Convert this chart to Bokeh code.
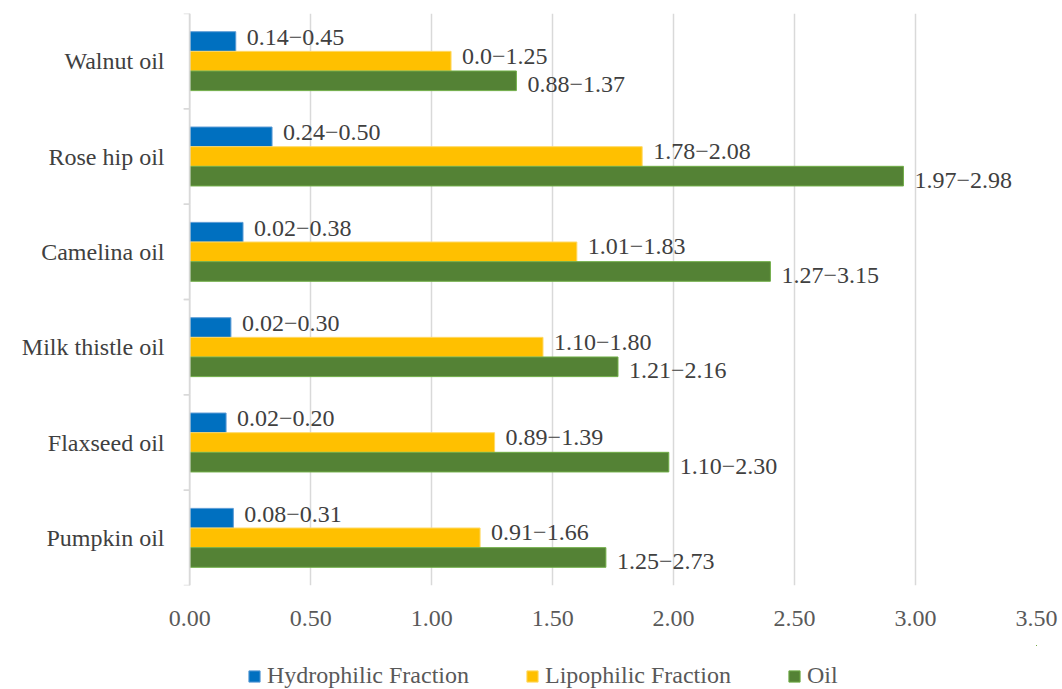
from bokeh.plotting import figure
from bokeh.layouts import column
from bokeh.models import (ColumnDataSource, FactorRange, Range1d, FixedTicker,
                          Legend, LegendItem, NumeralTickFormatter)
from bokeh.transform import dodge
from bokeh.core.properties import value
from bokeh.embed import file_html
from bokeh.resources import INLINE

categories = ["Pumpkin oil", "Flaxseed oil", "Milk thistle oil",
              "Camelina oil", "Rose hip oil", "Walnut oil"]
hydrophilic = [0.18, 0.15, 0.17, 0.22, 0.34, 0.19]
lipophilic = [1.20, 1.26, 1.46, 1.60, 1.87, 1.08]
oil = [1.72, 1.98, 1.77, 2.40, 2.95, 1.35]
hydrophilic_labels = ["0.08\u22120.31", "0.02\u22120.20", "0.02\u22120.30",
                      "0.02\u22120.38", "0.24\u22120.50", "0.14\u22120.45"]
lipophilic_labels = ["0.91\u22121.66", "0.89\u22121.39", "1.10\u22121.80",
                     "1.01\u22121.83", "1.78\u22122.08", "0.0\u22121.25"]
oil_labels = ["1.25\u22122.73", "1.10\u22122.30", "1.21\u22122.16",
              "1.27\u22123.15", "1.97\u22122.98", "0.88\u22121.37"]
series_names = ["Hydrophilic Fraction", "Lipophilic Fraction", "Oil"]
x_ticks = [0, 0.5, 1.0, 1.5, 2.0, 2.5, 3.0, 3.5]

FONT = "Liberation Serif"
FS = "24px"
colors = ["#0070C0", "#FFC000", "#548235"]
edges = ["#5B9BD5", "#FFD966", "#70AD47"]

src = ColumnDataSource(dict(cat=categories, h=hydrophilic, l=lipophilic, o=oil,
                            hl=hydrophilic_labels, ll=lipophilic_labels, ol=oil_labels))

p = figure(width=1062, height=645, output_backend="svg", toolbar_location=None,
           y_range=FactorRange(factors=categories, range_padding=0),
           x_range=Range1d(-0.026, 3.5),
           min_border_left=183, min_border_right=26, min_border_top=13,
           min_border_bottom=60)
p.outline_line_color = None
p.background_fill_color = "white"
p.border_fill_color = "white"

bh = 0.206
offs = [bh, 0.0, -bh]
fields = ["h", "l", "o"]
lfields = ["hl", "ll", "ol"]
yoffs = [-4, -5, 4]
for f, lf, off, c, e, yo in zip(fields, lfields, offs, colors, edges, yoffs):
    p.hbar(y=dodge("cat", off, range=p.y_range), right=f, left=0, height=bh,
           source=src, fill_color=c, line_color=e, line_width=1)
    p.text(x=f, y=dodge("cat", off, range=p.y_range), text=lf, source=src,
           x_offset=11, y_offset=yo, text_align="left", text_baseline="middle",
           text_font=value(FONT), text_font_size=FS, text_color="#404040")

# left axis line and boundary ticks
p.segment(x0=0, x1=0, y0=dodge("cat", -0.5, range=p.y_range),
          y1=dodge("cat", 0.5, range=p.y_range), source=src,
          line_color="#D9D9D9", line_width=1.5)
for bo in (-0.5, 0.5):
    p.segment(x0=-0.026, x1=0, y0=dodge("cat", bo, range=p.y_range),
              y1=dodge("cat", bo, range=p.y_range), source=src,
              line_color="#D9D9D9", line_width=1.5)

p.xgrid.ticker = FixedTicker(ticks=x_ticks)
p.xgrid.grid_line_color = "#D9D9D9"
p.xgrid.grid_line_width = 1.5
p.ygrid.grid_line_color = None

xa = p.xaxis[0]
xa.ticker = FixedTicker(ticks=x_ticks)
xa.formatter = NumeralTickFormatter(format="0.00")
xa.axis_line_color = None
xa.major_tick_line_color = None
xa.minor_tick_line_color = None
xa.major_tick_out = 0
xa.major_label_standoff = 25
xa.major_label_text_font = FONT
xa.major_label_text_font_size = FS
xa.major_label_text_color = "#595959"

ya = p.yaxis[0]
ya.axis_line_color = None
ya.major_tick_line_color = None
ya.major_tick_out = 0
ya.major_label_standoff = 19
ya.major_label_text_font = FONT
ya.major_label_text_font_size = FS
ya.major_label_text_color = "#404040"

# legend strip below the chart: its view ranges exclude the data, only the legend shows
lg = figure(width=1062, height=44, output_backend="svg", toolbar_location=None,
            x_range=Range1d(-2, -1),
            y_range=FactorRange(factors=categories, range_padding=0),
            x_axis_type=None, y_axis_type=None, min_border=0)
lg.outline_line_color = None
lg.grid.visible = False
legend_renderers = [lg.hbar(y=dodge("cat", 50, range=lg.y_range), right=f, left=0,
                            height=0.5, source=src,
                            fill_color=c, line_color=e, line_width=1)
                    for f, c, e in zip(fields, colors, edges)]
legend = Legend(items=[LegendItem(label=n, renderers=[r])
                       for n, r in zip(series_names, legend_renderers)],
                orientation="horizontal", location=(64, 0),
                glyph_width=14, glyph_height=14, label_standoff=6, spacing=56,
                padding=0, margin=0, border_line_color=None, background_fill_alpha=0,
                label_text_font=FONT, label_text_font_size=FS,
                label_text_color="#595959")
lg.add_layout(legend, "center")

layout = column(p, lg, spacing=0)
open("out.html", "w").write(file_html(layout, INLINE))
